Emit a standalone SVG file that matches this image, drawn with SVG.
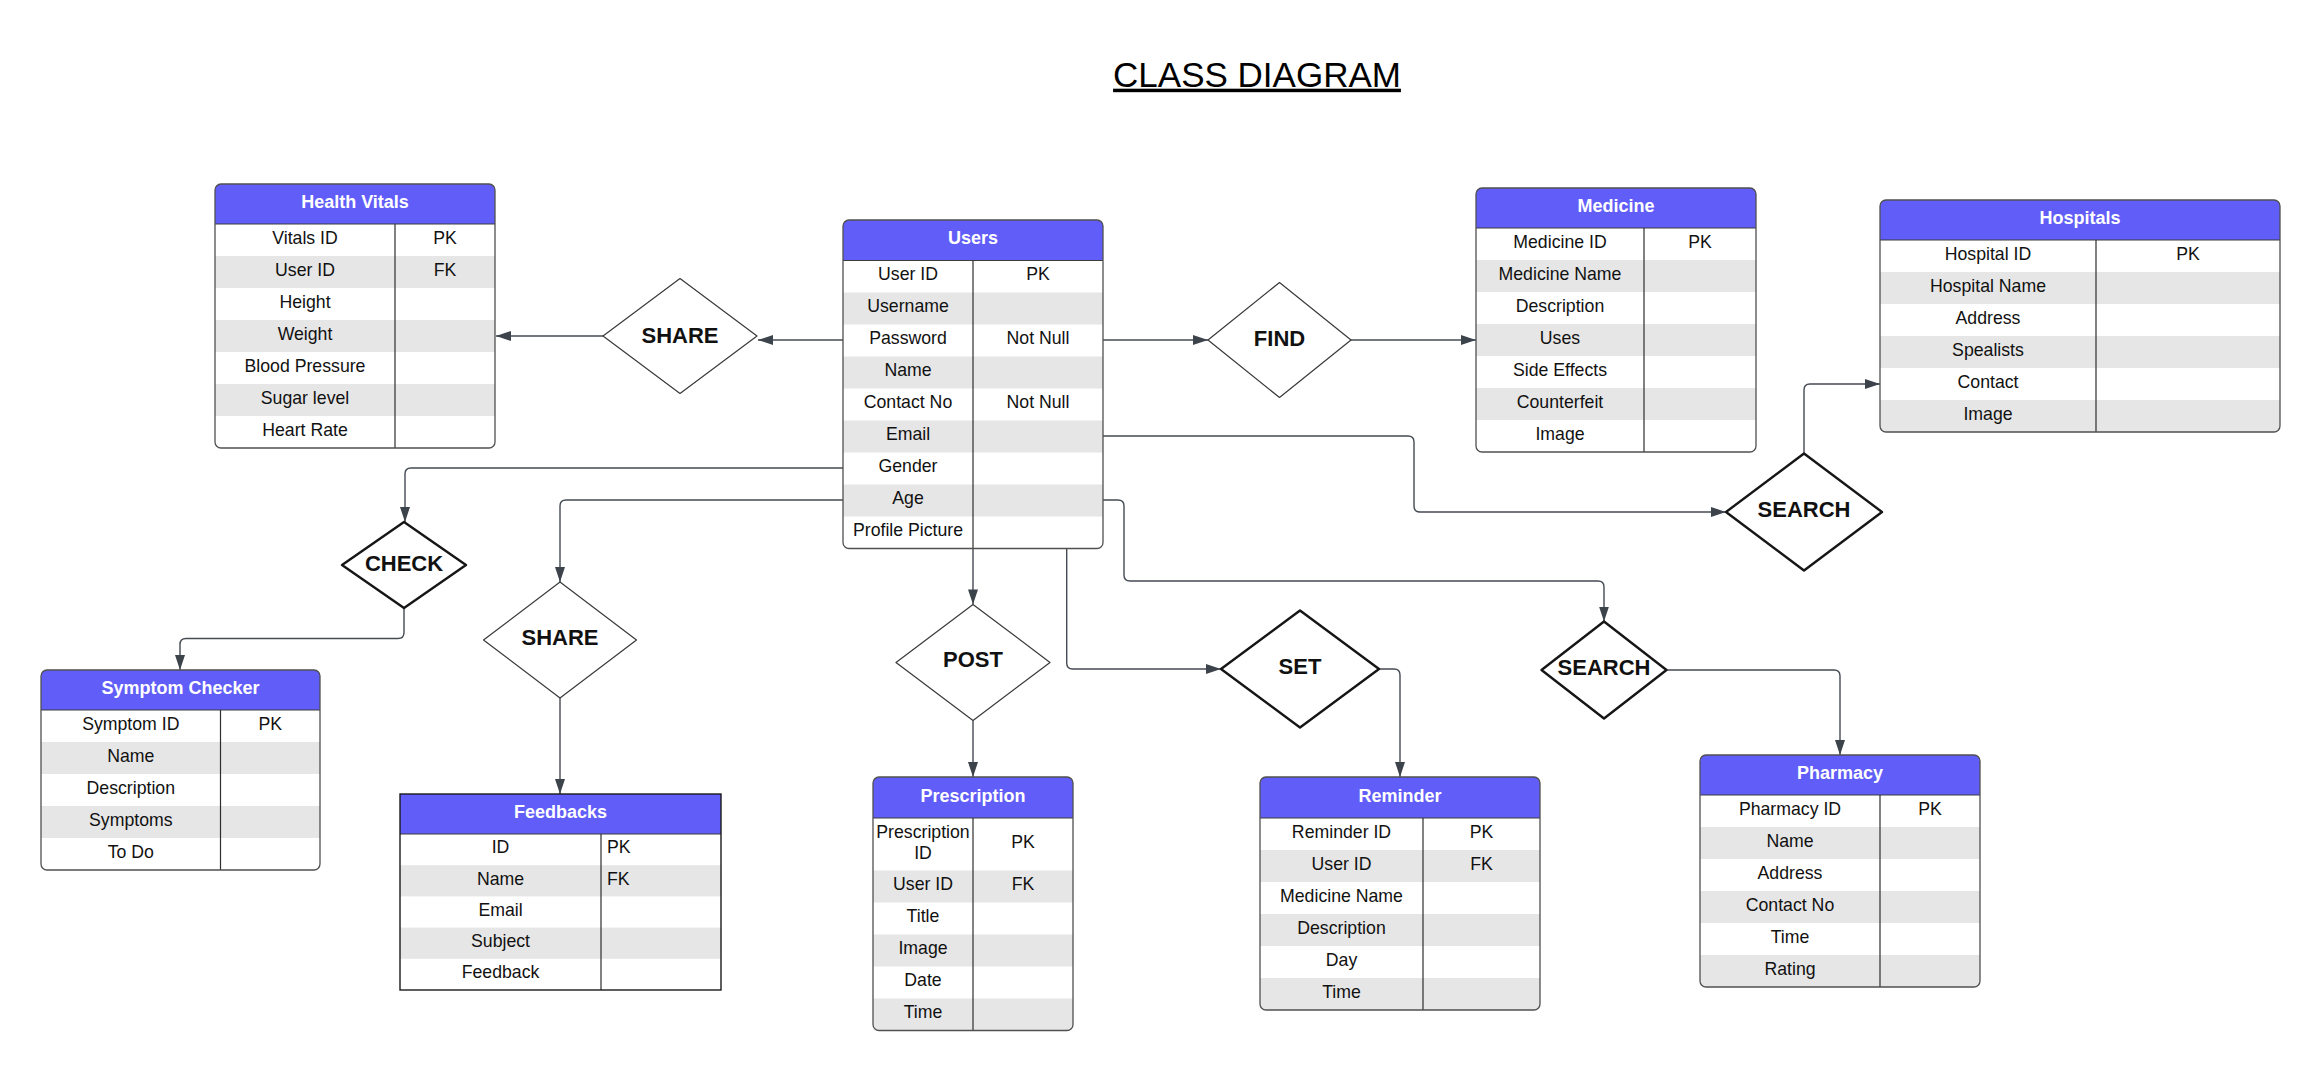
<svg xmlns="http://www.w3.org/2000/svg" width="2320" height="1069" viewBox="0 0 2320 1069">
<style>
.hdr{fill:#605df9}
.w{fill:#ffffff}
.g{fill:#e6e6e6}
.box{fill:none;stroke:#505050;stroke-width:1.3}
.boxsq{fill:none;stroke:#1a1a1a;stroke-width:1.4}
.sep{stroke:#3c3c3c;stroke-width:1.2}
.div{stroke:#2e2e2e;stroke-width:1.2}
text{font-family:"Liberation Sans",Arial,Helvetica,sans-serif}
.t{font-size:17.7px;fill:#111;text-anchor:middle}
.tl{font-size:17.7px;fill:#111;text-anchor:start}
.h{font-size:18px;font-weight:bold;fill:#ffffff;text-anchor:middle}
.dt{font-size:22px;font-weight:bold;fill:#111;text-anchor:middle}
.dia{fill:#ffffff;stroke:#3a3a3a;stroke-width:1.2;stroke-linejoin:round}
.diab{fill:#ffffff;stroke:#161616;stroke-width:2.4;stroke-linejoin:round}
.con{fill:none;stroke:#454b53;stroke-width:1.4;marker-end:url(#ah)}
.title{font-size:35px;fill:#000;text-anchor:middle;text-decoration:underline}
</style>
<defs>
<marker id="ah" viewBox="0 0 15 10" refX="15" refY="5" markerUnits="userSpaceOnUse" markerWidth="15" markerHeight="10" orient="auto">
<path d="M0,0 L15,5 L0,10 z" fill="#3d434b"/>
</marker>
<clipPath id="c-hv"><rect x="215" y="184" width="280" height="264" rx="6"/></clipPath>
<clipPath id="c-us"><rect x="843" y="220" width="260" height="328.5" rx="6"/></clipPath>
<clipPath id="c-me"><rect x="1476" y="188" width="280" height="264" rx="6"/></clipPath>
<clipPath id="c-ho"><rect x="1880" y="200" width="400" height="232" rx="6"/></clipPath>
<clipPath id="c-sc"><rect x="41" y="670" width="279" height="200" rx="6"/></clipPath>
<clipPath id="c-pr"><rect x="873" y="777" width="200" height="253.5" rx="6"/></clipPath>
<clipPath id="c-re"><rect x="1260" y="777" width="280" height="233" rx="6"/></clipPath>
<clipPath id="c-ph"><rect x="1700" y="755" width="280" height="232" rx="6"/></clipPath>
</defs>
<rect x="0" y="0" width="2320" height="1069" fill="#ffffff"/>

<text id="title" class="title" x="1257" y="86.7">CLASS DIAGRAM</text>

<g id="connectors">
<path class="con" d="M843,340 H758"/>
<path class="con" d="M603,336 H496"/>
<path class="con" d="M1103,340 H1208"/>
<path class="con" d="M1351,340 H1476"/>
<path class="con" d="M1103,436 H1408 Q1414,436 1414,442 V506 Q1414,512 1420,512 H1726"/>
<path class="con" d="M1804,453.5 V390 Q1804,384 1810,384 H1880"/>
<path class="con" d="M843,468 H411 Q405,468 405,474 V522"/>
<path class="con" d="M404,608 V632.5 Q404,638.5 398,638.5 H186 Q180,638.5 180,644.5 V670"/>
<path class="con" d="M843,500 H566 Q560,500 560,506 V582"/>
<path class="con" d="M560,698 V794"/>
<path class="con" d="M973,548.5 V604.4"/>
<path class="con" d="M973,720.4 V777"/>
<path class="con" d="M1066.7,548.5 V663 Q1066.7,669 1072.7,669 H1221"/>
<path class="con" d="M1379,669 H1394 Q1400,669 1400,675 V777"/>
<path class="con" d="M1103,500 H1118 Q1124,500 1124,506 V575 Q1124,581 1130,581 H1598 Q1604,581 1604,587 V621.5"/>
<path class="con" d="M1666.5,670 H1834 Q1840,670 1840,676 V755"/>
</g>

<g id="health-vitals">
<g clip-path="url(#c-hv)">
<rect class="w" x="215" y="184" width="280" height="264"/>
<rect class="hdr" x="215" y="184" width="280" height="40"/>
<rect class="g" x="215" y="256" width="280" height="32"/>
<rect class="g" x="215" y="320" width="280" height="32"/>
<rect class="g" x="215" y="384" width="280" height="32"/>
</g>
<line class="sep" x1="215" y1="224" x2="495" y2="224"/>
<line class="div" x1="395" y1="224" x2="395" y2="448"/>
<rect class="box" x="215" y="184" width="280" height="264" rx="6"/>
<text class="h" x="355" y="208">Health Vitals</text>
<text class="t" x="305" y="243.7">Vitals ID</text><text class="t" x="445" y="243.7">PK</text>
<text class="t" x="305" y="275.7">User ID</text><text class="t" x="445" y="275.7">FK</text>
<text class="t" x="305" y="307.7">Height</text>
<text class="t" x="305" y="339.7">Weight</text>
<text class="t" x="305" y="371.7">Blood Pressure</text>
<text class="t" x="305" y="403.7">Sugar level</text>
<text class="t" x="305" y="435.7">Heart Rate</text>
</g>

<g id="users">
<g clip-path="url(#c-us)">
<rect class="w" x="843" y="220" width="260" height="328.5"/>
<rect class="hdr" x="843" y="220" width="260" height="40.5"/>
<rect class="g" x="843" y="292.5" width="260" height="32"/>
<rect class="g" x="843" y="356.5" width="260" height="32"/>
<rect class="g" x="843" y="420.5" width="260" height="32"/>
<rect class="g" x="843" y="484.5" width="260" height="32"/>
</g>
<line class="sep" x1="843" y1="260.5" x2="1103" y2="260.5"/>
<line class="div" x1="973" y1="260.5" x2="973" y2="548.5"/>
<rect class="box" x="843" y="220" width="260" height="328.5" rx="6"/>
<text class="h" x="973" y="244.3">Users</text>
<text class="t" x="908" y="280.2">User ID</text><text class="t" x="1038" y="280.2">PK</text>
<text class="t" x="908" y="312.2">Username</text>
<text class="t" x="908" y="344.2">Password</text><text class="t" x="1038" y="344.2">Not Null</text>
<text class="t" x="908" y="376.2">Name</text>
<text class="t" x="908" y="408.2">Contact No</text><text class="t" x="1038" y="408.2">Not Null</text>
<text class="t" x="908" y="440.2">Email</text>
<text class="t" x="908" y="472.2">Gender</text>
<text class="t" x="908" y="504.2">Age</text>
<text class="t" x="908" y="536.2">Profile Picture</text>
</g>

<g id="medicine">
<g clip-path="url(#c-me)">
<rect class="w" x="1476" y="188" width="280" height="264"/>
<rect class="hdr" x="1476" y="188" width="280" height="40"/>
<rect class="g" x="1476" y="260" width="280" height="32"/>
<rect class="g" x="1476" y="324" width="280" height="32"/>
<rect class="g" x="1476" y="388" width="280" height="32"/>
</g>
<line class="sep" x1="1476" y1="228" x2="1756" y2="228"/>
<line class="div" x1="1644" y1="228" x2="1644" y2="452"/>
<rect class="box" x="1476" y="188" width="280" height="264" rx="6"/>
<text class="h" x="1616" y="212">Medicine</text>
<text class="t" x="1560" y="247.7">Medicine ID</text><text class="t" x="1700" y="247.7">PK</text>
<text class="t" x="1560" y="279.7">Medicine Name</text>
<text class="t" x="1560" y="311.7">Description</text>
<text class="t" x="1560" y="343.7">Uses</text>
<text class="t" x="1560" y="375.7">Side Effects</text>
<text class="t" x="1560" y="407.7">Counterfeit</text>
<text class="t" x="1560" y="439.7">Image</text>
</g>

<g id="hospitals">
<g clip-path="url(#c-ho)">
<rect class="w" x="1880" y="200" width="400" height="232"/>
<rect class="hdr" x="1880" y="200" width="400" height="40"/>
<rect class="g" x="1880" y="272" width="400" height="32"/>
<rect class="g" x="1880" y="336" width="400" height="32"/>
<rect class="g" x="1880" y="400" width="400" height="32"/>
</g>
<line class="sep" x1="1880" y1="240" x2="2280" y2="240"/>
<line class="div" x1="2096" y1="240" x2="2096" y2="432"/>
<rect class="box" x="1880" y="200" width="400" height="232" rx="6"/>
<text class="h" x="2080" y="224">Hospitals</text>
<text class="t" x="1988" y="259.7">Hospital ID</text><text class="t" x="2188" y="259.7">PK</text>
<text class="t" x="1988" y="291.7">Hospital Name</text>
<text class="t" x="1988" y="323.7">Address</text>
<text class="t" x="1988" y="355.7">Spealists</text>
<text class="t" x="1988" y="387.7">Contact</text>
<text class="t" x="1988" y="419.7">Image</text>
</g>

<g id="symptom-checker">
<g clip-path="url(#c-sc)">
<rect class="w" x="41" y="670" width="279" height="200"/>
<rect class="hdr" x="41" y="670" width="279" height="40"/>
<rect class="g" x="41" y="742" width="279" height="32"/>
<rect class="g" x="41" y="806" width="279" height="32"/>
</g>
<line class="sep" x1="41" y1="710" x2="320" y2="710"/>
<line class="div" x1="220.5" y1="710" x2="220.5" y2="870"/>
<rect class="box" x="41" y="670" width="279" height="200" rx="6"/>
<text class="h" x="180.5" y="694">Symptom Checker</text>
<text class="t" x="130.8" y="729.7">Symptom ID</text><text class="t" x="270.3" y="729.7">PK</text>
<text class="t" x="130.8" y="761.7">Name</text>
<text class="t" x="130.8" y="793.7">Description</text>
<text class="t" x="130.8" y="825.7">Symptoms</text>
<text class="t" x="130.8" y="857.7">To Do</text>
</g>

<g id="feedbacks">
<rect class="w" x="400" y="794" width="321" height="196"/>
<rect class="hdr" x="400" y="794" width="321" height="40"/>
<rect class="g" x="400" y="865.2" width="321" height="31.2"/>
<rect class="g" x="400" y="927.6" width="321" height="31.2"/>
<line class="sep" x1="400" y1="834" x2="721" y2="834"/>
<line class="div" x1="601" y1="834" x2="601" y2="990"/>
<rect class="boxsq" x="400" y="794" width="321" height="196"/>
<text class="h" x="560.5" y="818">Feedbacks</text>
<text class="t" x="500.5" y="853.3">ID</text><text class="tl" x="607" y="853.3">PK</text>
<text class="t" x="500.5" y="884.5">Name</text><text class="tl" x="607" y="884.5">FK</text>
<text class="t" x="500.5" y="915.7">Email</text>
<text class="t" x="500.5" y="946.9">Subject</text>
<text class="t" x="500.5" y="978.1">Feedback</text>
</g>

<g id="prescription">
<g clip-path="url(#c-pr)">
<rect class="w" x="873" y="777" width="200" height="253.5"/>
<rect class="hdr" x="873" y="777" width="200" height="41"/>
<rect class="g" x="873" y="870.5" width="200" height="32"/>
<rect class="g" x="873" y="934.5" width="200" height="32"/>
<rect class="g" x="873" y="998.5" width="200" height="32"/>
</g>
<line class="sep" x1="873" y1="818" x2="1073" y2="818"/>
<line class="div" x1="973" y1="818" x2="973" y2="1030.5"/>
<rect class="box" x="873" y="777" width="200" height="253.5" rx="6"/>
<text class="h" x="973" y="801.5">Prescription</text>
<text class="t" x="923" y="837.6">Prescription</text>
<text class="t" x="923" y="858.6">ID</text>
<text class="t" x="1023" y="848">PK</text>
<text class="t" x="923" y="890.2">User ID</text><text class="t" x="1023" y="890.2">FK</text>
<text class="t" x="923" y="922.2">Title</text>
<text class="t" x="923" y="954.2">Image</text>
<text class="t" x="923" y="986.2">Date</text>
<text class="t" x="923" y="1018.2">Time</text>
</g>

<g id="reminder">
<g clip-path="url(#c-re)">
<rect class="w" x="1260" y="777" width="280" height="233"/>
<rect class="hdr" x="1260" y="777" width="280" height="41"/>
<rect class="g" x="1260" y="850" width="280" height="32"/>
<rect class="g" x="1260" y="914" width="280" height="32"/>
<rect class="g" x="1260" y="978" width="280" height="32"/>
</g>
<line class="sep" x1="1260" y1="818" x2="1540" y2="818"/>
<line class="div" x1="1423" y1="818" x2="1423" y2="1010"/>
<rect class="box" x="1260" y="777" width="280" height="233" rx="6"/>
<text class="h" x="1400" y="801.5">Reminder</text>
<text class="t" x="1341.5" y="837.7">Reminder ID</text><text class="t" x="1481.5" y="837.7">PK</text>
<text class="t" x="1341.5" y="869.7">User ID</text><text class="t" x="1481.5" y="869.7">FK</text>
<text class="t" x="1341.5" y="901.7">Medicine Name</text>
<text class="t" x="1341.5" y="933.7">Description</text>
<text class="t" x="1341.5" y="965.7">Day</text>
<text class="t" x="1341.5" y="997.7">Time</text>
</g>

<g id="pharmacy">
<g clip-path="url(#c-ph)">
<rect class="w" x="1700" y="755" width="280" height="232"/>
<rect class="hdr" x="1700" y="755" width="280" height="40"/>
<rect class="g" x="1700" y="827" width="280" height="32"/>
<rect class="g" x="1700" y="891" width="280" height="32"/>
<rect class="g" x="1700" y="955" width="280" height="32"/>
</g>
<line class="sep" x1="1700" y1="795" x2="1980" y2="795"/>
<line class="div" x1="1880" y1="795" x2="1880" y2="987"/>
<rect class="box" x="1700" y="755" width="280" height="232" rx="6"/>
<text class="h" x="1840" y="779">Pharmacy</text>
<text class="t" x="1790" y="814.7">Pharmacy ID</text><text class="t" x="1930" y="814.7">PK</text>
<text class="t" x="1790" y="846.7">Name</text>
<text class="t" x="1790" y="878.7">Address</text>
<text class="t" x="1790" y="910.7">Contact No</text>
<text class="t" x="1790" y="942.7">Time</text>
<text class="t" x="1790" y="974.7">Rating</text>
</g>

<g id="share-vitals">
<polygon class="dia" points="680,278.5 757,336 680,393.5 603,336"/>
<text class="dt" x="680" y="342.5">SHARE</text>
</g>
<g id="find">
<polygon class="dia" points="1279.5,282.5 1351,340 1279.5,397.5 1208,340"/>
<text class="dt" x="1279.5" y="345.5">FIND</text>
</g>
<g id="search-hospitals">
<polygon class="diab" points="1804,453.5 1882,512 1804,570.5 1726,512"/>
<text class="dt" x="1804" y="517">SEARCH</text>
</g>
<g id="check">
<polygon class="diab" points="404,522 466,565 404,608 342,565"/>
<text class="dt" x="404" y="571">CHECK</text>
</g>
<g id="share-feedback">
<polygon class="dia" points="560,582 636.5,640 560,698 483.5,640"/>
<text class="dt" x="560" y="645">SHARE</text>
</g>
<g id="post">
<polygon class="dia" points="973,604.4 1050,662.4 973,720.4 896,662.4"/>
<text class="dt" x="973" y="667">POST</text>
</g>
<g id="set">
<polygon class="diab" points="1300,610.5 1379,669 1300,727.5 1221,669"/>
<text class="dt" x="1300" y="674">SET</text>
</g>
<g id="search-pharmacy">
<polygon class="diab" points="1604,621.5 1666.5,670 1604,718.5 1541.5,670"/>
<text class="dt" x="1604" y="675">SEARCH</text>
</g>
</svg>
